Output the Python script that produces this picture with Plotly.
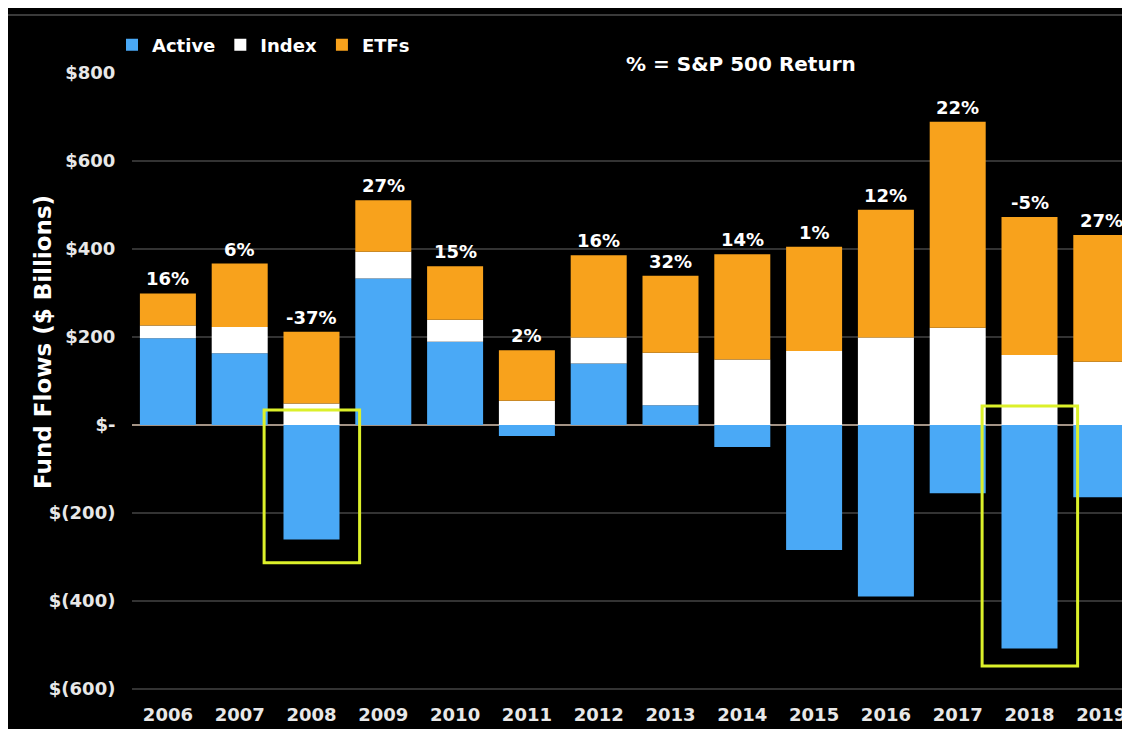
import plotly.graph_objects as go

years = ["2006", "2007", "2008", "2009", "2010", "2011", "2012",
         "2013", "2014", "2015", "2016", "2017", "2018", "2019"]
active = [197, 163, -260, 333, 189, -25, 140, 45, -50, -284, -390, -155, -508, -164]
index_ = [29, 60, 49, 61, 50, 55, 59, 119, 149, 168, 199, 221, 159, 144]
etfs = [73, 144, 163, 117, 122, 115, 187, 175, 239, 237, 290, 468, 314, 288]
sp_return = ["16%", "6%", "-37%", "27%", "15%", "2%", "16%", "32%", "14%", "1%",
             "12%", "22%", "-5%", "27%"]

tick_vals = [800, 600, 400, 200, 0, -200, -400, -600]
tick_text = ["$800", "$600", "$400", "$200", "$-", "$(200)", "$(400)", "$(600)"]

highlights = [("2008", 34, -313), ("2018", 43, -548)]

BLUE = "#4aa9f6"
WHITE = "#ffffff"
ORANGE = "#f8a21c"
FONT = "DejaVu Sans"

W, H = 1130, 729
OFF = 8  # page body margin
ML, MR, MT, MB = 124, 0, 65, 35
PW, PH = W - ML - MR, H - MT - MB
SLOT = 71.8   # px per category
YSCALE = 0.44  # px per $bn


def px_x(p):  # screen px -> paper x
    return (p - OFF - ML) / PW


def px_y(q):  # screen px -> paper y
    return (H - MB - (q - OFF)) / PH


fig = go.Figure()
for name, vals, col in [("Active", active, BLUE), ("Index", index_, WHITE), ("ETFs", etfs, ORANGE)]:
    fig.add_trace(go.Bar(x=years, y=vals, name=name,
                         marker=dict(color=col, line=dict(width=0))))

for i, yr in enumerate(years):
    top = index_[i] + etfs[i] + max(active[i], 0)
    fig.add_annotation(xref="x", yref="y", x=i, y=top, text=sp_return[i], showarrow=False,
                       yanchor="bottom", yshift=2,
                       font=dict(family=FONT, size=18, color="white", weight="bold"))

for yr, ytop, ybot in highlights:
    k = years.index(yr)
    fig.add_shape(type="rect", xref="x", yref="y", x0=k - 0.66, x1=k + 0.67,
                  y0=ybot, y1=ytop, line=dict(color="#dcf02a", width=3),
                  fillcolor="rgba(0,0,0,0)", layer="above")

fig.add_annotation(xref="paper", yref="paper", x=px_x(28), y=px_y(342),
                   text="Fund Flows ($ Billions)", textangle=-90, showarrow=False,
                   font=dict(family=FONT, size=23, color="white", weight="bold"))
fig.add_annotation(xref="paper", yref="paper", x=px_x(741), y=px_y(50),
                   text="% = S&P 500 Return", showarrow=False,
                   font=dict(family=FONT, size=20, color="white", weight="bold"))

fig.add_shape(type="line", xref="paper", yref="paper", x0=px_x(8), x1=px_x(1140),
              y0=px_y(15), y1=px_y(15), line=dict(color="#3a3a3a", width=2), layer="below")

fig.update_layout(
    width=W, height=H,
    margin=dict(l=ML, r=MR, t=MT, b=MB, pad=0),
    paper_bgcolor="black", plot_bgcolor="black",
    barmode="relative", bargap=0.22,
    showlegend=True,
    legend=dict(orientation="h", x=px_x(112), y=px_y(45), xanchor="left", yanchor="middle",
                font=dict(family=FONT, size=18, color="white", weight="bold"),
                bgcolor="rgba(0,0,0,0)", itemclick=False, traceorder="normal"),
    xaxis=dict(type="category", range=[-0.5, -0.5 + PW / SLOT], showgrid=False,
               tickfont=dict(family=FONT, size=18, color="#e8e8e8", weight="bold"),
               ticks="", showline=False, zeroline=False),
    yaxis=dict(range=[800 - PH / YSCALE, 800], tickvals=tick_vals, ticktext=tick_text,
               tickfont=dict(family=FONT, size=18, color="#e8e8e8", weight="bold"),
               ticks="outside", ticklen=12, tickcolor="rgba(0,0,0,0)",
               showgrid=True, gridcolor="#333333", gridwidth=1.5,
               zeroline=True, zerolinecolor="#a39385", zerolinewidth=1.5, showline=False),
)

fig.write_html("out.html")
